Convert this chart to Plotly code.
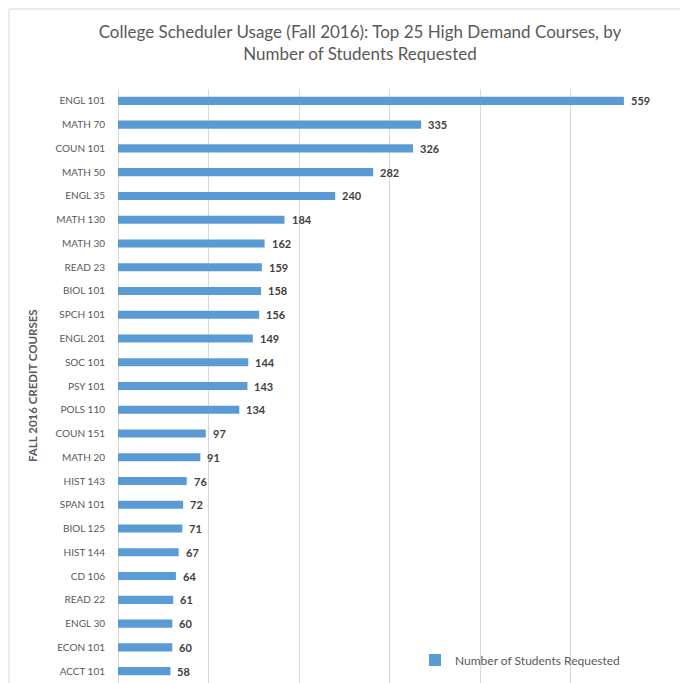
import plotly.graph_objects as go

# Fall 2016 course demand from the College Scheduler
courses = [
    "ENGL 101", "MATH 70", "COUN 101", "MATH 50", "ENGL 35", "MATH 130",
    "MATH 30", "READ 23", "BIOL 101", "SPCH 101", "ENGL 201", "SOC 101",
    "PSY 101", "POLS 110", "COUN 151", "MATH 20", "HIST 143", "SPAN 101",
    "BIOL 125", "HIST 144", "CD 106", "READ 22", "ENGL 30", "ECON 101",
    "ACCT 101",
]
students_requested = [
    559, 335, 326, 282, 240, 184, 162, 159, 158, 156, 149, 144, 143, 134,
    97, 91, 76, 72, 71, 67, 64, 61, 60, 60, 58,
]

W, H = 680, 683
ML, MR, MT, MB = 118, 19, 89, 0
PW = W - ML - MR
PH = H - MT - MB

FONT = "Lato"
BAR = "#5b9bd5"
GRID = "#d9d9d9"
LABEL = "#595959"

fig = go.Figure()
fig.add_trace(go.Bar(
    x=students_requested,
    y=courses,
    orientation="h",
    width=0.34,
    marker=dict(color=BAR, line=dict(width=0)),
    name="Number of Students Requested",
    showlegend=True,
))

# Value labels just past the end of each bar
for c, v in zip(courses, students_requested):
    fig.add_annotation(
        x=v, y=c, xref="x", yref="y",
        text=f"<b>{v}</b>", showarrow=False,
        xanchor="left", xshift=5,
        font=dict(family=FONT, size=11, color="#404040"),
    )

# Vertical axis title
fig.add_annotation(
    x=(32 - ML) / PW, y=0.5, xref="paper", yref="paper",
    text="<b>FALL 2016 CREDIT COURSES</b>", textangle=-90,
    showarrow=False, xanchor="center", yanchor="middle",
    font=dict(family=FONT, size=11.5, color=LABEL),
)

# Chart frame (left and top edges)
fig.add_shape(
    type="path", xref="paper", yref="paper",
    path=f"M {(9 - ML) / PW},-0.1 L {(9 - ML) / PW},{(H - 9 - MB) / PH} L 1.2,{(H - 9 - MB) / PH}",
    line=dict(color=GRID, width=1),
)

fig.update_layout(
    width=W, height=H,
    margin=dict(l=ML, r=MR, t=MT, b=MB, pad=0),
    paper_bgcolor="white", plot_bgcolor="white",
    font=dict(family=FONT, color=LABEL),
    title=dict(
        text="College Scheduler Usage (Fall 2016): Top 25 High Demand Courses, by<br>Number of Students Requested",
        x=360 / W, xanchor="center", xref="container",
        y=1 - 38 / H, yanchor="top", yref="container",
        font=dict(family=FONT, size=17, color=LABEL),
    ),
    xaxis=dict(
        range=[0, 600], dtick=100, tick0=0,
        showgrid=True, gridcolor=GRID, gridwidth=1,
        zeroline=True, zerolinecolor=GRID, zerolinewidth=1,
        showticklabels=False, ticks="", showline=False,
    ),
    yaxis=dict(
        autorange="reversed", type="category",
        showgrid=False, zeroline=False, showline=False, ticks="",
        ticklabelstandoff=12,
        tickfont=dict(family=FONT, size=10, color=LABEL),
    ),
    bargap=0.66,
    legend=dict(
        x=(415 - ML) / PW, y=(H - 660 - MB) / PH,
        xanchor="left", yanchor="middle",
        bgcolor="rgba(0,0,0,0)", itemwidth=30,
        font=dict(family=FONT, size=12, color=LABEL),
    ),
)

fig.write_html("out.html")
